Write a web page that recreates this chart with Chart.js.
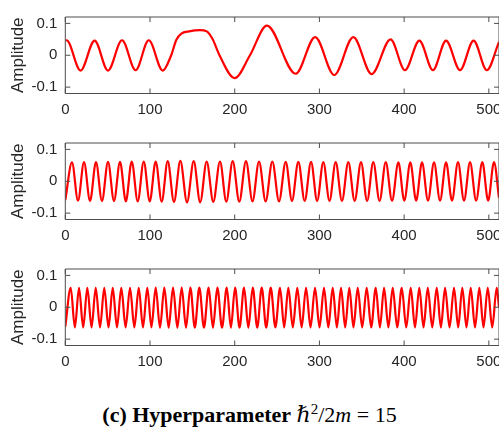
<!DOCTYPE html>
<html>
<head>
<meta charset="utf-8">
<script src="https://cdn.jsdelivr.net/npm/chart.js@4.4.1/dist/chart.umd.min.js"></script>
<style>
  body { margin: 0; width: 499px; height: 441px; overflow: hidden; background: #fff; position: relative; }
  .panel { position: absolute; left: 0; }
  #caption { position: absolute; left: 0; width: 499px; top: 403px; line-height: 24px; text-align: center;
             font-family: "Liberation Serif", "DejaVu Serif", serif; font-size: 22px; color: #000; white-space: nowrap; }
  #caption i { font-style: italic; }
  #caption sup { font-size: 15px; line-height: 0; vertical-align: 8px; }
</style>
</head>
<body>
<canvas class="panel" id="c1" width="530" height="125" style="top:0px"></canvas>
<canvas class="panel" id="c2" width="530" height="125" style="top:125.5px"></canvas>
<canvas class="panel" id="c3" width="530" height="125" style="top:251.5px"></canvas>
<div id="caption"><b>(c) Hyperparameter</b> <i>ℏ</i><sup>2</sup>/2<i>m</i> = 15</div>

<script>
// axis ticks
const xTicks = [0, 100, 200, 300, 400, 500];
const yTicks = [-0.1, 0, 0.1];
const yTickLabels = ['-0.1', '0', '0.1'];

// panel 1: extrema and shape points
const wave1X = [0, 1.5, 18, 34.6, 50.4, 67, 83, 98.5, 115, 125, 131, 137, 146, 159, 167, 174, 182, 200, 218, 238,
                272, 295, 317.5, 340, 361.7, 384, 401, 418, 434, 449.5, 466, 482, 497.6, 512];
const wave1Y = [0.046, 0.047, -0.048, 0.046, -0.048, 0.047, -0.047, 0.047, -0.048, 0.0, 0.048, 0.068, 0.075, 0.079, 0.075, 0.05, 0.0, -0.072, 0.0, 0.093,
                -0.058, 0.057, -0.062, 0.057, -0.059, 0.050, -0.047, 0.046, -0.047, 0.046, -0.047, 0.046, -0.047, 0.042];

// panel 2: peaks and troughs
const wave2X = [0, 7.9, 15, 22.1, 29.2, 36.2, 43.3, 50.4, 57.5, 64.6, 71.5, 78.4, 85.5, 92.6, 99.7, 106.7, 113.8,
                120.9, 128.3, 135.8, 143.7, 151.6, 159.2, 166.9, 174.7, 182.6, 190.1, 197.6, 205.4, 213.3, 221,
                228.7, 236.5, 244.4, 252.3, 260.2, 267.6, 275.1, 282.6, 290.1, 297.3, 304.6, 311.9, 319.2, 326.6,
                334.1, 341.6, 349.1, 356.3, 363.6, 371, 378.3, 385.7, 393.2, 400.2, 407.3, 414.2, 421.1, 428.2,
                435.3, 442.4, 449.5, 456.5, 463.6, 470.7, 477.8, 485, 492.3, 499.2, 506.1, 512];
const wave2Y = [-0.059, 0.059, -0.061, 0.060, -0.062, 0.060, -0.062, 0.061, -0.062, 0.061, -0.063, 0.062, -0.063,
                0.062, -0.063, 0.062, -0.064, 0.063, -0.065, 0.064, -0.066, 0.063, -0.066, 0.062, -0.065, 0.062,
                -0.064, 0.063, -0.064, 0.063, -0.063, 0.062, -0.063, 0.062, -0.063, 0.061, -0.062, 0.061, -0.062,
                0.061, -0.062, 0.060, -0.062, 0.060, -0.062, 0.060, -0.062, 0.060, -0.062, 0.060, -0.062, 0.060,
                -0.061, 0.059, -0.061, 0.059, -0.061, 0.059, -0.061, 0.059, -0.061, 0.059, -0.061, 0.060, -0.061,
                0.060, -0.061, 0.060, -0.061, 0.060, -0.052];

// panel 3: peaks and troughs
const wave3X = [0, 6.4, 11.3, 16.2, 21.1, 26, 31, 35.9, 41, 46, 51, 56, 61, 66.1, 71.2, 76.4, 81.5, 86.7, 91.7,
                96.8, 101.7, 106.7, 111.8, 116.9, 122, 127.2, 132.3, 137.4, 142.5, 147.6, 152.9, 158.2, 163.7,
                169.2, 174.3, 179.5, 185, 190.6, 195.5, 200.4, 205.7, 211, 216.1, 221.3, 226.6, 231.9, 237.2,
                242.5, 248, 253.5, 258.4, 263.3, 268.6, 273.9, 279, 284.2, 289.5, 294.8, 300.1, 305.4, 310.5,
                315.7, 320.6, 325.5, 330.4, 335.3, 340.2, 345.2, 350.5, 355.8, 361.1, 366.5, 371.4, 376.3, 381.4,
                386.5, 391.8, 397.2, 402.5, 407.8, 412.8, 417.9, 422.9, 427.9, 433.2, 438.5, 443.4, 448.3, 453.6,
                458.9, 463.8, 468.7, 473.6, 478.6, 483.7, 488.8, 493.7, 498.7, 504, 509.3, 512];
const wave3Y = [-0.061, 0.061, -0.063, 0.061, -0.063, 0.061, -0.063, 0.061, -0.063, 0.061, -0.063, 0.061, -0.063,
                0.061, -0.063, 0.061, -0.063, 0.061, -0.063, 0.061, -0.063, 0.062, -0.064, 0.062, -0.064, 0.062,
                -0.064, 0.062, -0.064, 0.062, -0.064, 0.062, -0.064, 0.062, -0.064, 0.062, -0.064, 0.062, -0.064,
                0.062, -0.064, 0.062, -0.064, 0.062, -0.064, 0.062, -0.064, 0.062, -0.063, 0.061, -0.063, 0.061,
                -0.063, 0.061, -0.063, 0.061, -0.063, 0.061, -0.063, 0.061, -0.063, 0.061, -0.063, 0.061, -0.063,
                0.061, -0.063, 0.061, -0.063, 0.061, -0.063, 0.061, -0.063, 0.061, -0.063, 0.061, -0.063, 0.061,
                -0.063, 0.061, -0.063, 0.061, -0.063, 0.061, -0.063, 0.061, -0.063, 0.061, -0.063, 0.061, -0.063,
                0.061, -0.063, 0.061, -0.063, 0.061, -0.063, 0.061, -0.063, 0.061, 0.0];

const boxPlugin = {
    id: 'box',
    afterDraw(chart) {
        const ctx = chart.ctx;
        const a = chart.chartArea;
        const x = chart.scales.x;
        const y = chart.scales.y;
        ctx.save();
        ctx.strokeStyle = '#4d4d4d';
        ctx.lineWidth = 1;
        ctx.beginPath();
        ctx.rect(a.left, a.top, a.right - a.left, a.bottom - a.top);
        xTicks.forEach(v => {
            let px = x.getPixelForValue(v);
            ctx.moveTo(px, a.bottom);
            ctx.lineTo(px, a.bottom - 5);
            ctx.moveTo(px, a.top);
            ctx.lineTo(px, a.top + 5);
        });
        yTicks.forEach(v => {
            let py = y.getPixelForValue(v);
            ctx.moveTo(a.left, py);
            ctx.lineTo(a.left + 5, py);
            ctx.moveTo(a.right, py);
            ctx.lineTo(a.right - 5, py);
        });
        ctx.stroke();
        ctx.restore();
    }
};

function makePanel(id, xs, ys) {
    let points = xs.map((v, k) => ({ x: v, y: ys[k] }));
    return new Chart(document.getElementById(id), {
        type: 'line',
        data: {
            datasets: [{
                data: points,
                borderColor: '#ff0000',
                borderWidth: 2.2,
                pointRadius: 0,
                fill: false,
                cubicInterpolationMode: 'monotone'
            }]
        },
        options: {
            responsive: false,
            animation: false,
            events: [],
            layout: { padding: { top: 5, right: 31, left: 0, bottom: 0 } },
            plugins: { legend: { display: false }, tooltip: { enabled: false } },
            scales: {
                x: {
                    type: 'linear',
                    min: 0,
                    max: 512,
                    grid: { display: false, drawTicks: false },
                    border: { display: false },
                    afterBuildTicks: s => { s.ticks = xTicks.map(v => ({ value: v })); },
                    afterFit: s => { s.height = 31.5; },
                    ticks: {
                        padding: 7,
                        maxRotation: 0,
                        color: '#262626',
                        font: { family: 'Liberation Sans, Arial, sans-serif', size: 15 },
                        callback: v => String(v)
                    }
                },
                y: {
                    min: -0.12,
                    max: 0.12,
                    grid: { display: false, drawTicks: false },
                    border: { display: false },
                    afterBuildTicks: s => { s.ticks = yTicks.map(v => ({ value: v })); },
                    afterFit: s => { s.width = 65.3; },
                    ticks: {
                        padding: 8,
                        color: '#262626',
                        font: { family: 'Liberation Sans, Arial, sans-serif', size: 15 },
                        callback: v => yTickLabels[yTicks.indexOf(Math.round(v * 10) / 10)]
                    },
                    title: {
                        display: true,
                        text: 'Amplitude',
                        color: '#262626',
                        padding: { top: 8, bottom: 0 },
                        font: { family: 'Liberation Sans, Arial, sans-serif', size: 17 }
                    }
                }
            }
        },
        plugins: [boxPlugin]
    });
}

makePanel('c1', wave1X, wave1Y);
makePanel('c2', wave2X, wave2Y);
makePanel('c3', wave3X, wave3Y);
</script>
</body>
</html>
